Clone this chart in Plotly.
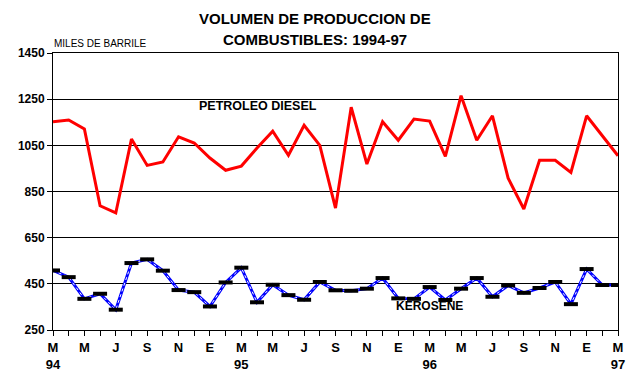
import plotly.graph_objects as go

months = ["M","A","M","J","J","A","S","O","N","D","E","F",
          "M","A","M","J","J","A","S","O","N","D","E","F",
          "M","A","M","J","J","A","S","O","N","D","E","F","M"]
years = {0: "94", 12: "95", 24: "96", 36: "97"}

diesel = [1152, 1160, 1121, 788, 757, 1077, 963, 978, 1087, 1060, 995, 942,
          960, 1038, 1111, 1007, 1137, 1050, 778, 1215, 969, 1152, 1072, 1164,
          1155, 1002, 1265, 1072, 1178, 908, 774, 985, 985, 933, 1178, 1093, 1005]

kerosene = [508, 479, 385, 407, 338, 540, 556, 507, 423, 414, 352, 456,
            520, 370, 446, 401, 381, 458, 422, 420, 429, 475, 387, 385,
            436, 380, 429, 475, 394, 443, 411, 432, 458, 362, 514, 445, 445]

x = list(range(len(months)))

ticktext = []
for i, m in enumerate(months):
    if i % 2 == 0:
        ticktext.append(m + ("<br>" + years[i] if i in years else "<br> "))
    else:
        ticktext.append("")

fig = go.Figure()
fig.add_trace(go.Scatter(x=x, y=diesel, mode="lines",
                         line=dict(color="#ff0000", width=3), hoverinfo="skip"))
fig.add_trace(go.Scatter(x=x, y=kerosene, mode="lines",
                         line=dict(color="#0000ff", width=3), hoverinfo="skip"))
fig.add_trace(go.Scatter(x=x, y=kerosene, mode="lines",
                         line=dict(color="#ffffff", width=1, dash="dot"), hoverinfo="skip"))
fig.add_trace(go.Scatter(x=x, y=kerosene, mode="markers",
                         marker=dict(symbol="line-ew", size=10,
                                     line=dict(color="#000000", width=4)),
                         hoverinfo="skip"))

fam = "Liberation Sans"
fig.update_layout(
    width=632, height=373,
    margin=dict(l=45, r=22, t=45, b=51, autoexpand=False),
    paper_bgcolor="white", plot_bgcolor="white",
    showlegend=False,
    font=dict(family=fam, color="black"),
    xaxis=dict(range=[0, 36], tickmode="array", tickvals=x, ticktext=ticktext,
               ticks="outside", ticklen=5, tickcolor="black", tickwidth=1,
               showline=True, linecolor="black", linewidth=1, mirror=True,
               showgrid=False, zeroline=False, automargin=False,
               tickfont=dict(family=fam, size=13, weight="bold")),
    yaxis=dict(range=[250, 1450], tickmode="linear", tick0=250, dtick=200,
               ticks="outside", ticklen=5, tickcolor="black", tickwidth=1,
               showline=True, linecolor="black", linewidth=1, mirror=True,
               showgrid=True, gridcolor="black", gridwidth=1, zeroline=False,
               automargin=False,
               tickfont=dict(family=fam, size=12, weight="bold")),
    annotations=[
        dict(text="VOLUMEN DE PRODUCCION DE", xref="paper", yref="paper",
             x=0.464, y=1.126, showarrow=False, xanchor="center", yanchor="middle",
             font=dict(family=fam, size=15, weight="bold")),
        dict(text="COMBUSTIBLES: 1994-97", xref="paper", yref="paper",
             x=0.464, y=1.047, showarrow=False, xanchor="center", yanchor="middle",
             font=dict(family=fam, size=15, weight="bold")),
        dict(text="MILES DE BARRILE", xref="paper", yref="paper",
             x=-0.002, y=1.036, showarrow=False, xanchor="left", yanchor="middle",
             font=dict(family=fam, size=10)),
        dict(text="PETROLEO DIESEL", x=13.03, y=1219, showarrow=False,
             xanchor="center", yanchor="middle",
             font=dict(family=fam, size=12.5, weight="bold")),
        dict(text="KEROSENE", x=23.97, y=352, showarrow=False,
             xanchor="center", yanchor="middle",
             font=dict(family=fam, size=12, weight="bold")),
    ],
)

fig.write_html("out.html")
